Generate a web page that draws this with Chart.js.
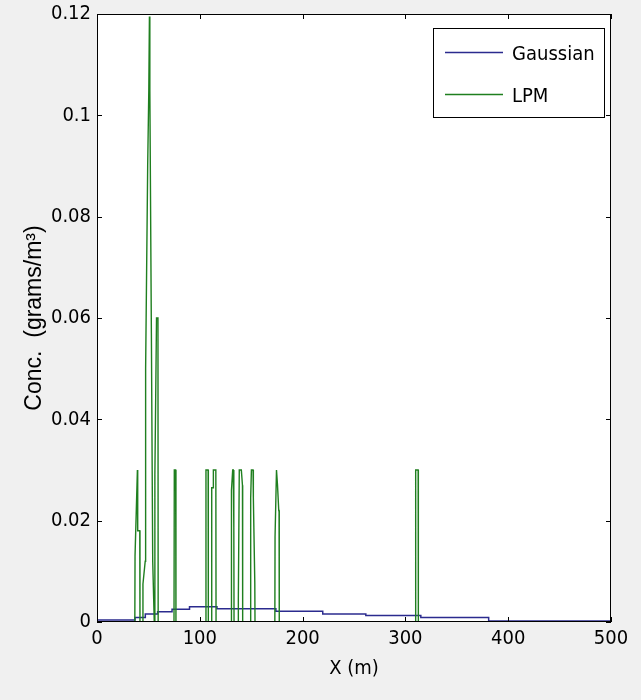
<!DOCTYPE html>
<html>
<head>
<meta charset="utf-8">
<script src="https://cdn.jsdelivr.net/npm/chart.js@4.4.1/dist/chart.umd.min.js"></script>
<style>
  html, body { margin: 0; padding: 0; background: #f0f0f0; }
  #wrap { width: 641px; height: 700px; }
</style>
</head>
<body>
<div id="wrap"><canvas id="myChart" width="641" height="700"></canvas></div>
<script>
// tick labels
const xTicks = [0, 100, 200, 300, 400, 500];
const yTicks = [0, 0.02, 0.04, 0.06, 0.08, 0.1, 0.12];

// Gaussian (piecewise constant, value holds until next x)
const gaussX = [0, 37, 47, 59, 73, 90, 116.7, 174, 219.6, 261.5, 315, 381, 488.3, 500];
const gaussY = [0, 0.0004, 0.0009, 0.0016, 0.002, 0.0025, 0.003, 0.0026, 0.0021, 0.0016, 0.0013, 0.0009, 0.0002, 0.0002];

// LPM
const lpmX = [0,
    36.8, 37.0, 39.3, 39.5, 39.7, 41.6, 41.8,
    44.5, 44.7, 46.9, 47.3, 49.3, 50.4, 51.0, 51.4, 52.9, 54.2, 55.7, 56.3, 57.9, 59.3, 59.5,
    74.9, 75.2, 76.5, 76.8,
    105.8, 106.0, 108.1, 108.3,
    111.4, 111.6, 113.0, 113.2, 115.6, 115.8,
    130.4, 130.6, 131.0, 132.0, 132.6, 133.1, 133.3,
    137.3, 137.5, 138.4, 140.4, 141.5, 141.7,
    149.3, 149.5, 150.2, 151.8, 152.1, 153.5, 153.7,
    173.0, 173.2, 174.6, 175.6, 176.8, 177.1, 177.3,
    309.8, 310.0, 312.4, 312.6,
    500];
const lpmY = [0,
    0, 0.013, 0.03, 0.03, 0.018, 0.018, 0,
    0, 0.0075, 0.012, 0.05, 0.09, 0.105, 0.1195, 0.105, 0.057, 0.012, 0, 0.029, 0.06, 0.06, 0,
    0, 0.03, 0.03, 0,
    0, 0.03, 0.03, 0,
    0, 0.0265, 0.0265, 0.03, 0.03, 0,
    0, 0.021, 0.026, 0.03, 0.03, 0.0186, 0,
    0, 0.0045, 0.03, 0.03, 0.027, 0,
    0, 0.0245, 0.03, 0.03, 0.0245, 0.0077, 0,
    0, 0.0168, 0.03, 0.027, 0.022, 0.022, 0,
    0, 0.03, 0.03, 0,
    0];

const seriesNames = ['Gaussian', 'LPM'];
const seriesColors = ['#2b2b8e', '#1f7f1f'];

const narrow = "'Liberation Sans Narrow', 'Arial Narrow', 'DejaVu Sans Condensed', 'DejaVu Sans', sans-serif";

function toPoints(xs, ys) {
    return xs.map((x, i) => ({x: x, y: ys[i]}));
}

const frame = {
    id: 'frame',
    beforeDraw(chart) {
        const c = chart.ctx, a = chart.chartArea;
        c.save();
        c.fillStyle = '#f0f0f0';
        c.fillRect(0, 0, chart.width, chart.height);
        c.fillStyle = '#ffffff';
        c.fillRect(a.left, a.top, a.right - a.left, a.bottom - a.top);
        c.restore();
    },
    afterDraw(chart) {
        const c = chart.ctx, a = chart.chartArea;
        const xs = chart.scales.x, ys = chart.scales.y;
        const len = 5;
        c.save();
        c.strokeStyle = '#000';
        c.lineWidth = 1;
        c.strokeRect(a.left + 0.5, a.top + 0.5, a.right - a.left - 1, a.bottom - a.top - 1);
        c.beginPath();
        for (let v of xTicks) {
            let px = Math.round(xs.getPixelForValue(v)) + 0.5;
            c.moveTo(px, a.bottom); c.lineTo(px, a.bottom - len);
            c.moveTo(px, a.top); c.lineTo(px, a.top + len);
        }
        for (let v of yTicks) {
            let py = Math.round(ys.getPixelForValue(v)) + 0.5;
            c.moveTo(a.left, py); c.lineTo(a.left + len, py);
            c.moveTo(a.right, py); c.lineTo(a.right - len, py);
        }
        c.stroke();

        // legend box
        const bx = a.right - 178, by = a.top + 14, bw = 171, bh = 89;
        c.fillStyle = '#fff';
        c.fillRect(bx, by, bw, bh);
        c.strokeRect(bx + 0.5, by + 0.5, bw, bh);
        c.font = 'condensed 20px ' + narrow;
        c.textBaseline = 'middle';
        chart.data.datasets.forEach((ds, i) => {
            let y = by + 24 + i * 42;
            c.strokeStyle = ds.borderColor;
            c.lineWidth = 1.5;
            c.beginPath();
            c.moveTo(bx + 12, y + 0.5);
            c.lineTo(bx + 70, y + 0.5);
            c.stroke();
            c.fillStyle = '#000';
            c.fillText(ds.label, bx + 79, y + 3);
        });
        c.restore();
    }
};

new Chart(document.getElementById('myChart'), {
    type: 'scatter',
    data: {
        datasets: [
            {
                label: seriesNames[0],
                data: toPoints(gaussX, gaussY),
                showLine: true,
                stepped: 'after',
                borderColor: seriesColors[0],
                borderWidth: 1.5,
                pointRadius: 0,
                order: 1
            },
            {
                label: seriesNames[1],
                data: toPoints(lpmX, lpmY),
                showLine: true,
                borderColor: seriesColors[1],
                borderWidth: 1.4,
                pointRadius: 0,
                order: 0
            }
        ]
    },
    options: {
        responsive: false,
        animation: false,
        devicePixelRatio: 1,
        layout: { padding: { top: 14, right: 30, left: 0, bottom: 0 } },
        plugins: {
            legend: { display: false },
            tooltip: { enabled: false }
        },
        scales: {
            x: {
                type: 'linear',
                min: 0, max: 500,
                afterBuildTicks: s => { s.ticks = xTicks.map(v => ({value: v})); },
                afterFit: s => { s.height = 78; },
                grid: { display: false, drawTicks: false },
                border: { display: false },
                ticks: {
                    padding: 7,
                    color: '#000',
                    font: { family: narrow, size: 20, style: 'condensed', lineHeight: 1 },
                    maxRotation: 0,
                    callback: v => String(v)
                },
                title: {
                    display: true,
                    text: 'X (m)',
                    color: '#000',
                    font: { family: narrow, size: 20, style: 'condensed' },
                    padding: { top: 0, bottom: 19 }
                }
            },
            y: {
                type: 'linear',
                min: 0, max: 0.12,
                afterBuildTicks: s => { s.ticks = yTicks.map(v => ({value: v})); },
                afterFit: s => { s.width = 97; s.paddingTop = 0; s.paddingBottom = 0; },
                grid: { display: false, drawTicks: false },
                border: { display: false },
                ticks: {
                    padding: 6,
                    color: '#000',
                    font: { family: narrow, size: 20, style: 'condensed', lineHeight: 1 },
                    callback: v => String(+v.toFixed(2))
                },
                title: {
                    display: true,
                    text: 'Conc.  (grams/m³)',
                    color: '#000',
                    font: { family: "'Liberation Sans', Arial, sans-serif", size: 23 },
                    padding: { top: 21, bottom: 0 }
                }
            }
        }
    },
    plugins: [frame]
});
</script>
</body>
</html>
